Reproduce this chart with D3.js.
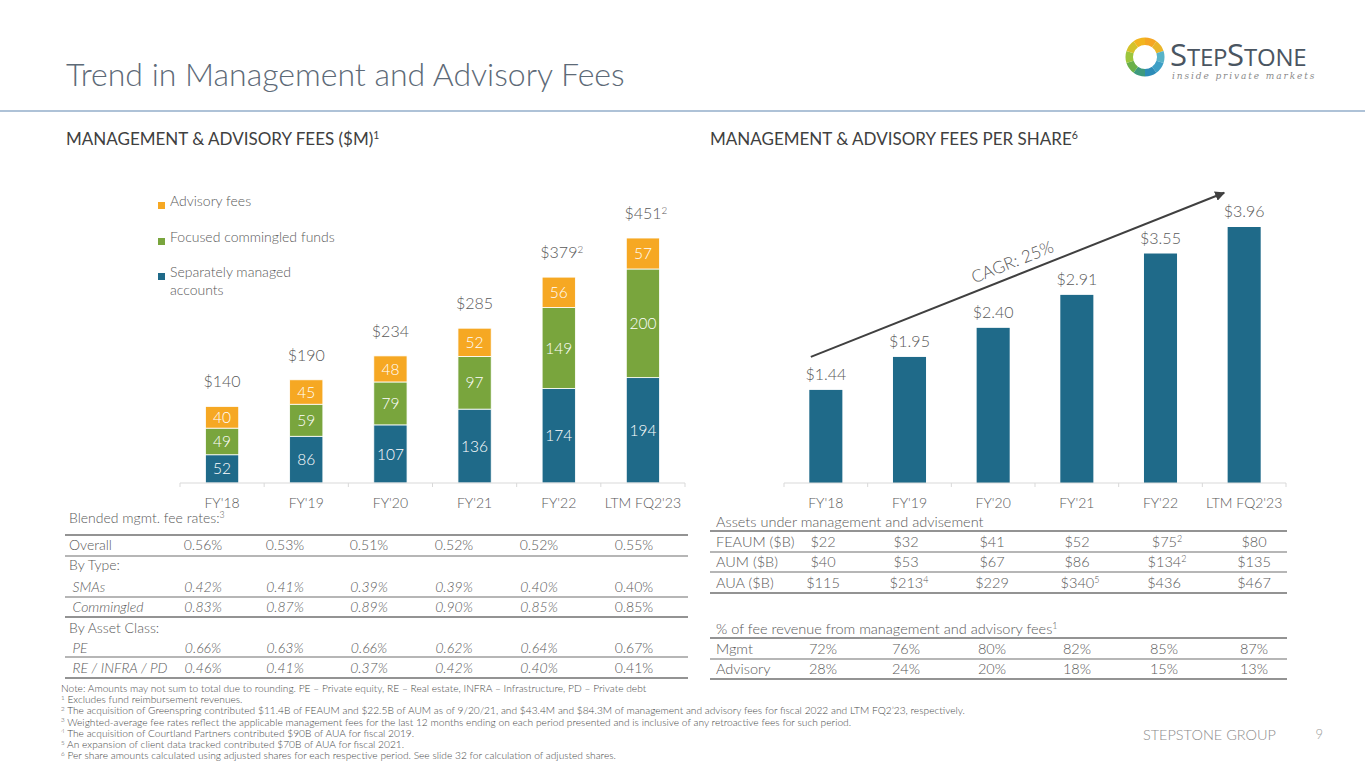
<!DOCTYPE html>
<html><head><meta charset="utf-8">
<script src="https://cdn.jsdelivr.net/npm/d3@7"></script>
<style>
html,body{margin:0;padding:0;background:#fff;}
svg{display:block;font-family:Lato,"Open Sans",sans-serif;font-weight:300;}
</style></head>
<body><svg id="c" width="1365" height="768"></svg>
<script>
// ---------------- data ----------------
const categories = ["FY'18","FY'19","FY'20","FY'21","FY'22","LTM FQ2'23"];
const smaFees = [52,86,107,136,174,194];
const commingledFees = [49,59,79,97,149,200];
const advisoryFees = [40,45,48,52,56,57];
const totalLabels = ["$140","$190","$234","$285","$379","$451"];
const totalSup = ["","","","","2","2"];
const seriesNames = ["Separately managed accounts","Focused commingled funds","Advisory fees"];
const feesPerShare = [1.44,1.95,2.40,2.91,3.55,3.96];
const perShareLabels = ["$1.44","$1.95","$2.40","$2.91","$3.55","$3.96"];
const cagrLabel = "CAGR: 25%";
const cagrFrom = ["FY'18", 1.95];
const cagrTo = ["LTM FQ2'23", 4.49];

const feeRateRows = [
  {label:"Overall", vals:["0.56%","0.53%","0.51%","0.52%","0.52%","0.55%"], italic:false},
  {label:"By Type:", vals:null},
  {label:" SMAs", vals:["0.42%","0.41%","0.39%","0.39%","0.40%","0.40%"], italic:true},
  {label:" Commingled", vals:["0.83%","0.87%","0.89%","0.90%","0.85%","0.85%"], italic:true},
  {label:"By Asset Class:", vals:null},
  {label:" PE", vals:["0.66%","0.63%","0.66%","0.62%","0.64%","0.67%"], italic:true},
  {label:" RE / INFRA / PD", vals:["0.46%","0.41%","0.37%","0.42%","0.40%","0.41%"], italic:true}
];
const assetRows = [
  {label:"FEAUM ($B)", vals:["$22","$32","$41","$52","$75^2","$80"]},
  {label:"AUM ($B)", vals:["$40","$53","$67","$86","$134^2","$135"]},
  {label:"AUA ($B)", vals:["$115","$213^4","$229","$340^5","$436","$467"]}
];
const feeMixRows = [
  {label:"Mgmt", vals:["72%","76%","80%","82%","85%","87%"]},
  {label:"Advisory", vals:["28%","24%","20%","18%","15%","13%"]}
];
const footnotes = [
  "Note: Amounts may not sum to total due to rounding. PE – Private equity, RE – Real estate, INFRA – Infrastructure, PD – Private debt",
  "^1 Excludes fund reimbursement revenues.",
  "^2 The acquisition of Greenspring contributed $11.4B of FEAUM and $22.5B of AUM as of 9/20/21, and $43.4M and $84.3M of management and advisory fees for fiscal 2022 and LTM FQ2’23, respectively.",
  "^3 Weighted-average fee rates reflect the applicable management fees for the last 12 months ending on each period presented and is inclusive of any retroactive fees for such period.",
  "^4 The acquisition of Courtland Partners contributed $90B of AUA for fiscal 2019.",
  "^5 An expansion of client data tracked contributed $70B of AUA for fiscal 2021.",
  "^6 Per share amounts calculated using adjusted shares for each respective period. See slide 32 for calculation of adjusted shares."
];

// ---------------- style ----------------
const C = {blue:"#1f6a89", green:"#79a53d", orange:"#f6a823", text:"#595959", dark:"#404040", axis:"#d9d9d9", rule:"#6f6f6f"};
const svg = d3.select("#c");

// text with superscripts marked "^x"
function richText(g, x, y, str, opts={}) {
  const t = g.append("text").attr("x", x).attr("y", y)
    .attr("font-size", opts.size || 14).attr("fill", opts.fill || C.text)
    .attr("text-anchor", opts.anchor || "start")
    .attr("font-style", opts.italic ? "italic" : "normal");
  if (opts.weight) t.attr("font-weight", opts.weight);
  const parts = str.split(/(\^\d)/).filter(p => p);
  let raised = false;
  parts.forEach(p => {
    if (p[0] === "^") {
      t.append("tspan").attr("font-size", "0.62em").attr("dy", "-0.55em").text(p.slice(1));
      raised = true;
    } else {
      const s = t.append("tspan").text(p);
      if (raised) { s.attr("dy", "0.341em"); raised = false; }
    }
  });
  return t;
}

// ---------------- header ----------------
svg.append("text").attr("x", 66).attr("y", 86).attr("font-size", 32).attr("fill", "#5d6a77")
  .text("Trend in Management and Advisory Fees");
svg.append("line").attr("x1", 0).attr("x2", 1365).attr("y1", 111).attr("y2", 111)
  .attr("stroke", "#aec2d7").attr("stroke-width", 2);

// logo
const logo = svg.append("g").attr("transform", "translate(1145,57)");
const ringCols = ["#f5a623","#e9b52a","#58b3c8","#3d9fc6","#2d8cb8","#3e9a7e","#6ab04a","#9cc53d","#d4c22a","#f2b51f"];
const arc = d3.arc().innerRadius(12).outerRadius(19.5);
const pie = d3.pie().value(1).sort(null);
logo.selectAll("path").data(pie(ringCols)).join("path").attr("d", arc).attr("fill", (d,i) => ringCols[i]);
const lt = svg.append("text").attr("x", 1170).attr("y", 66).attr("fill", "#4a5561").attr("font-family", "'Open Sans',sans-serif").attr("font-weight", 400);
lt.append("tspan").attr("font-size", 31).text("S");
lt.append("tspan").attr("font-size", 24).attr("letter-spacing", -0.3).text("TEP");
lt.append("tspan").attr("font-size", 31).text("S");
lt.append("tspan").attr("font-size", 24).attr("letter-spacing", -0.3).text("TONE");
svg.append("text").attr("x", 1172).attr("y", 79).attr("font-size", 9).attr("font-style", "italic")
  .attr("font-family", "'DejaVu Serif',serif").attr("fill", "#8a8a8a").attr("letter-spacing", 1.9)
  .text("inside private markets");

// section titles
richText(svg, 66, 145, "MANAGEMENT & ADVISORY FEES ($M)^1", {size:17, fill:"#404040", weight:400});
richText(svg, 710, 145, "MANAGEMENT & ADVISORY FEES PER SHARE^6", {size:17, fill:"#404040", weight:400});

// ---------------- left stacked chart ----------------
const xL = d3.scaleBand().domain(categories).range([180, 685]);
const yL = d3.scaleLinear().domain([0, 500]).range([483, 211.4]);
const stackData = categories.map((c,i) => ({cat:c, sma:smaFees[i], com:commingledFees[i], adv:advisoryFees[i]}));
const stack = d3.stack().keys(["sma","com","adv"])(stackData);
const colL = [C.blue, C.green, C.orange];
const bwL = xL.bandwidth() * 0.395;
const gL = svg.append("g");
stack.forEach((layer, li) => {
  const g = gL.append("g");
  g.selectAll("rect").data(layer).join("rect")
    .attr("x", d => xL(d.data.cat) + xL.bandwidth()/2 - bwL/2)
    .attr("width", bwL)
    .attr("y", d => yL(d[1]))
    .attr("height", d => yL(d[0]) - yL(d[1]))
    .attr("fill", colL[li]).attr("stroke", "#fff").attr("stroke-width", 0.8);
  g.selectAll("text").data(layer).join("text")
    .attr("x", d => xL(d.data.cat) + xL.bandwidth()/2)
    .attr("y", d => (yL(d[0]) + yL(d[1]))/2)
    .attr("dy", "0.36em").attr("text-anchor", "middle").attr("font-size", 15.5).attr("fill", "#fff")
    .text(d => d[1] - d[0]);
});
stackData.forEach((d,i) => {
  richText(gL, xL(d.cat) + xL.bandwidth()/2 + (totalSup[i] ? 3 : 0), yL(d.sma + d.com + d.adv) - 19,
    totalLabels[i] + (totalSup[i] ? "^" + totalSup[i] : ""), {size:16, anchor:"middle"});
});
// axis
const axL = gL.append("g").attr("transform", "translate(0,483)");
axL.append("line").attr("x1", xL.range()[0]).attr("x2", xL.range()[1]).attr("stroke", C.axis).attr("stroke-width", 1.2);
axL.selectAll("line.t").data(categories.concat([null])).join("line").attr("class","t")
  .attr("x1", (d,i) => xL.range()[0] + i*xL.step()).attr("x2", (d,i) => xL.range()[0] + i*xL.step())
  .attr("y1", 0).attr("y2", 4).attr("stroke", C.axis);
axL.selectAll("text").data(categories).join("text")
  .attr("x", d => xL(d) + xL.bandwidth()/2).attr("y", 25).attr("text-anchor", "middle")
  .attr("font-size", 14).attr("fill", C.text).text(d => d);
// legend
const legY = [206, 242, 277];
const legendItems = [{n:"Advisory fees", c:C.orange}, {n:"Focused commingled funds", c:C.green}, {n:"Separately managed|accounts", c:C.blue}];
legendItems.forEach((it, i) => {
  svg.append("rect").attr("x", 158).attr("y", legY[i] - 4).attr("width", 7).attr("height", 7).attr("fill", it.c);
  const t = svg.append("text").attr("x", 170).attr("y", legY[i]).attr("dy", "0.35em").attr("font-size", 14).attr("fill", C.text);
  it.n.split("|").forEach((s, k) => t.append("tspan").attr("x", 170).attr("dy", k ? "1.3em" : 0).text(s));
});

// ---------------- right chart ----------------
const xR = d3.scaleBand().domain(categories).range([784, 1286]);
const yR = d3.scaleLinear().domain([0, 4.5]).range([483, 192.1]);
const bwR = xR.bandwidth() * 0.395;
const gR = svg.append("g");
gR.selectAll("rect").data(feesPerShare).join("rect")
  .attr("x", (d,i) => xR(categories[i]) + xR.bandwidth()/2 - bwR/2)
  .attr("width", bwR).attr("y", d => yR(d)).attr("height", d => yR(0) - yR(d)).attr("fill", C.blue);
gR.selectAll("text.v").data(feesPerShare).join("text").attr("class","v")
  .attr("x", (d,i) => xR(categories[i]) + xR.bandwidth()/2).attr("y", d => yR(d) - 10)
  .attr("text-anchor", "middle").attr("font-size", 16).attr("fill", C.text).text((d,i) => perShareLabels[i]);
const axR = gR.append("g").attr("transform", "translate(0,483)");
axR.append("line").attr("x1", xR.range()[0]).attr("x2", xR.range()[1]).attr("stroke", C.axis).attr("stroke-width", 1.2);
axR.selectAll("line.t").data(categories.concat([null])).join("line").attr("class","t")
  .attr("x1", (d,i) => xR.range()[0] + i*xR.step()).attr("x2", (d,i) => xR.range()[0] + i*xR.step())
  .attr("y1", 0).attr("y2", 4).attr("stroke", C.axis);
axR.selectAll("text").data(categories).join("text")
  .attr("x", d => xR(d) + xR.bandwidth()/2).attr("y", 25).attr("text-anchor", "middle")
  .attr("font-size", 14).attr("fill", C.text).text(d => d);
// CAGR arrow
svg.append("defs").append("marker").attr("id", "ah").attr("viewBox", "0 0 10 10").attr("refX", 9).attr("refY", 5)
  .attr("markerWidth", 5).attr("markerHeight", 5).attr("orient", "auto")
  .append("path").attr("d", "M0,0L10,5L0,10z").attr("fill", "#404040");
const ax1 = xR(cagrFrom[0]) + xR.bandwidth()/2 - 15, ay1 = yR(cagrFrom[1]);
const ax2 = xR(cagrTo[0]) + xR.bandwidth()/2 - 20, ay2 = yR(cagrTo[1]);
svg.append("line").attr("x1", ax1).attr("y1", ay1).attr("x2", ax2).attr("y2", ay2)
  .attr("stroke", "#404040").attr("stroke-width", 2).attr("marker-end", "url(#ah)");
const ang = Math.atan2(ay2 - ay1, ax2 - ax1) * 180 / Math.PI;
const mx = ax1 + (ax2 - ax1) * 0.5, my = ay1 + (ay2 - ay1) * 0.5;
svg.append("text").attr("transform", `translate(${mx},${my}) rotate(${ang}) translate(0,-8)`)
  .attr("text-anchor", "middle").attr("font-size", 17).attr("fill", C.text).text(cagrLabel);

// ---------------- left table ----------------
const gT = svg.append("g");
const colL2 = [203, 285, 369, 454, 539, 634];
richText(gT, 69, 523, "Blended mgmt. fee rates:^3", {size:14});
const rowYL = [550, 570, 592, 612, 633, 653, 673];
const lineYL = [{y:535, w:1.6}, {y:556, w:1.2}, {y:597, w:1.2}, {y:617, w:1.6}, {y:657, w:1.2}, {y:678, w:1.6}];
lineYL.forEach(l => gT.append("line").attr("x1", 65).attr("x2", 688).attr("y1", l.y).attr("y2", l.y).attr("stroke", C.rule).attr("stroke-width", l.w));
feeRateRows.forEach((r, i) => {
  gT.append("text").attr("x", 69).attr("y", rowYL[i]).attr("font-size", 14).attr("fill", C.text)
    .attr("font-style", r.italic ? "italic" : "normal").attr("xml:space", "preserve").text(r.label);
  if (r.vals) r.vals.forEach((v, j) => {
    gT.append("text").attr("x", colL2[j]).attr("y", rowYL[i]).attr("text-anchor", "middle").attr("font-size", 14)
      .attr("fill", C.text).attr("font-style", r.italic && j < 5 ? "italic" : "normal").text(v);
  });
});

// ---------------- right tables ----------------
const colR2 = [823, 906, 992, 1077, 1164, 1254];
richText(gT, 716, 527, "Assets under management and advisement", {size:14.5});
const rowYR = [547, 567, 588];
[531, 552, 572, 593].forEach((y,i) => gT.append("line").attr("x1", 710).attr("x2", 1287).attr("y1", y).attr("y2", y)
  .attr("stroke", C.rule).attr("stroke-width", i === 0 || i === 3 ? 1.6 : 1.2));
assetRows.forEach((r, i) => {
  gT.append("text").attr("x", 716).attr("y", rowYR[i]).attr("font-size", 14.5).attr("fill", C.text).text(r.label);
  r.vals.forEach((v, j) => richText(gT, colR2[j] + (v.includes("^") ? 3 : 0), rowYR[i], v, {size:14.5, anchor:"middle"}));
});
richText(gT, 716, 634, "% of fee revenue from management and advisory fees^1", {size:14.5});
const rowYR2 = [654, 674];
[638, 659, 679].forEach((y,i) => gT.append("line").attr("x1", 710).attr("x2", 1287).attr("y1", y).attr("y2", y)
  .attr("stroke", C.rule).attr("stroke-width", i === 1 ? 1.2 : 1.6));
feeMixRows.forEach((r, i) => {
  gT.append("text").attr("x", 716).attr("y", rowYR2[i]).attr("font-size", 14.5).attr("fill", C.text).text(r.label);
  r.vals.forEach((v, j) => gT.append("text").attr("x", colR2[j]).attr("y", rowYR2[i]).attr("text-anchor", "middle")
    .attr("font-size", 14.5).attr("fill", C.text).text(v));
});

// ---------------- footnotes ----------------
footnotes.forEach((f, i) => richText(svg, 61, 692 + i * 11.2, f, {size:10.2, fill:"#4a4a4a"}));

// footer
svg.append("text").attr("x", 1276).attr("y", 740).attr("text-anchor", "end").attr("font-size", 14.5)
  .attr("fill", "#8c8c8c").text("STEPSTONE GROUP");
svg.append("text").attr("x", 1323).attr("y", 739).attr("text-anchor", "end").attr("font-size", 13)
  .attr("fill", "#9a9a9a").text("9");
</script></body></html>
